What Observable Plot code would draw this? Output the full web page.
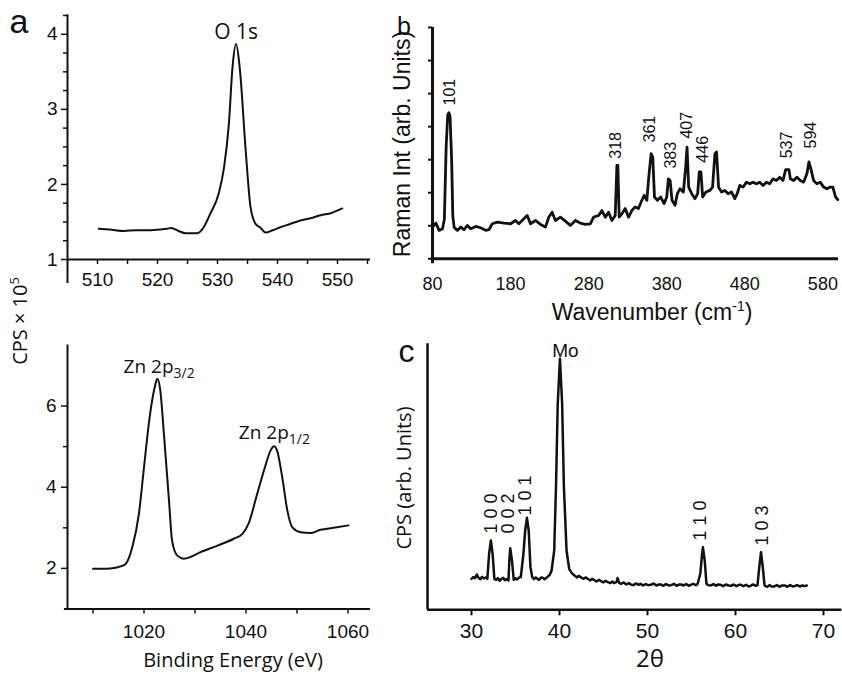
<!DOCTYPE html>
<html><head><meta charset="utf-8">
<script src="https://cdn.jsdelivr.net/npm/d3@7"></script>
<script src="https://cdn.jsdelivr.net/npm/@observablehq/plot@0.6"></script>
<style>
body{margin:0;background:#fff;}
#wrap{position:relative;width:842px;height:675px;overflow:hidden;background:#fff;}
#wrap svg{position:absolute;left:0;top:0;}
</style></head><body><div id="wrap"></div>
<script>
// ---------- (a) XPS O 1s ----------
const o1sBE  = [510.2,512.0,514.4,516.5,518.5,520.5,521.6,522.3,523.5,524.7,526.6,527.7,528.8,530.2,531.1,531.9,532.5,533.1,533.7,534.7,535.5,536.3,537.2,538.0,539.2,540.5,542.0,543.8,545.5,547.2,549.0,550.8];
const o1sCPS = [1.41,1.40,1.38,1.39,1.39,1.40,1.41,1.42,1.38,1.35,1.35,1.43,1.61,1.88,2.23,2.81,3.56,3.87,3.56,2.45,1.70,1.48,1.42,1.36,1.39,1.43,1.47,1.52,1.55,1.59,1.62,1.68];
const o1sXTicks = [510,515,520,525,530,535,540,545,550,555];
const o1sYTicks = [1,2,3,4];
const o1sYMinor = [1.25,1.5,1.75,2.25,2.5,2.75,3.25,3.5,3.75,4.25];
const o1sLabel = [{x:533.1, y:3.94, text:"O 1s"}];

// ---------- (a) XPS Zn 2p ----------
const zn2pBE  = [1010.0,1013.4,1015.4,1016.4,1017.7,1019.0,1020.0,1021.1,1022.1,1022.6,1023.2,1023.9,1024.9,1025.5,1026.5,1027.8,1029.1,1031.1,1034.4,1037.6,1039.3,1040.5,1042.2,1043.8,1044.8,1045.5,1046.1,1047.1,1048.1,1049.1,1050.7,1052.6,1054.6,1057.2,1060.1];
const zn2pCPS = [1.99,2.00,2.05,2.11,2.52,3.34,4.49,5.72,6.46,6.67,6.38,5.32,3.67,2.69,2.32,2.24,2.28,2.40,2.56,2.73,2.85,3.10,3.84,4.53,4.90,5.01,4.90,4.25,3.43,3.01,2.89,2.87,2.95,3.00,3.06];
const zn2pXTicks = [1010,1020,1030,1040,1050,1060];
const zn2pYTicks = [2,4,6];
const zn2pYMinor = [3,5];
const zn2pLabels = [{x:1016.0, y:6.81, main:"Zn 2p", sub:"3/2"}, {x:1038.6, y:5.19, main:"Zn 2p", sub:"1/2"}];

// ---------- (b) Raman ----------
const ramanWn  = [80,84.3,88.5,92.8,95.2,97.5,99.5,101.0,102.5,104.5,106.0,107.7,111.9,116.2,120.4,124.7,128.9,135.3,141.7,148.1,152.3,156.6,163,171.5,180,186.4,190.6,197,201.3,205.5,211.9,218.3,224.7,228.9,233.2,237.4,243.8,250.2,256.6,263,269.4,275.7,282.1,286.4,292.8,297,301.3,305.5,309.8,314,316.2,317.4,319.1,322.6,326.8,331.1,335.3,339.6,343.8,348.1,351.1,354.5,357,360,362.1,364.3,368.1,372.3,376.6,380,382.1,384.3,386.8,390.6,393.6,397,401.3,404.3,406,408.1,412,416.2,419.6,421.7,423.8,426,430.2,435.3,438.7,441.7,443.8,446.4,450.2,454.5,458.7,463,467.2,470.2,473.6,477.9,482.1,486.4,490.6,494.9,499.1,503.4,507.7,511.9,516.2,520.4,524.7,528.9,532.3,536.6,538.3,542.6,546.8,551.1,555.3,559.6,562.1,565.1,568.1,572.3,576.6,580.9,585.1,589.4,592.8,596.2,599.1];
const ramanInt = [0.96,1.08,0.86,0.91,1.20,3.40,4.35,4.42,4.30,3.00,1.30,0.95,0.86,0.96,0.88,1.01,0.91,0.98,0.94,0.86,0.88,1.06,1.11,1.08,1.06,1.16,1.06,1.21,1.31,1.06,1.16,1.04,0.96,1.26,1.41,1.16,1.26,1.14,1.01,1.16,1.08,1.04,1.06,1.26,1.31,1.46,1.26,1.41,1.16,1.31,2.83,2.83,1.26,1.36,1.52,1.26,1.46,1.57,1.52,1.77,1.92,1.77,2.47,3.18,3.08,1.87,1.77,1.87,1.67,1.87,2.42,2.37,1.77,1.62,1.97,2.12,2.02,2.78,3.38,2.17,1.97,1.82,1.97,2.63,2.63,1.87,2.02,2.07,2.17,3.18,3.23,2.17,2.02,2.07,1.97,2.02,1.82,1.97,2.22,2.17,2.32,2.27,2.32,2.27,2.32,2.22,2.32,2.27,2.42,2.37,2.47,2.37,2.70,2.70,2.42,2.37,2.47,2.37,2.32,2.58,2.93,2.68,2.37,2.27,2.32,2.17,2.12,2.17,2.17,1.87,1.79];
const ramanXTicks = [80,180,280,380,480,580];
const ramanYTicks = [0,1,2,3,4,5,6,7];
const ramanPeakText = ["101","318","361","383","407","446","537","594"];
const ramanPeakX    = [102.2,314.4,358.3,385.7,406.2,426.7,534.3,565.0];
const ramanPeakY    = [4.64,3.03,3.52,2.73,3.64,2.91,3.04,3.34];

// ---------- (c) XRD ----------
const xrd2Theta = [30.0,30.2,30.4,30.6,30.8,31.0,31.2,31.4,31.6,31.8,32.0,32.2,32.4,32.6,32.8,33.0,33.2,33.4,33.6,33.8,34.0,34.2,34.3,34.4,34.6,34.8,35.0,35.2,35.4,35.6,35.9,36.1,36.3,36.5,36.7,36.9,37.1,37.3,37.5,37.7,37.9,38.1,38.3,38.6,38.9,39.1,39.4,39.6,39.8,40.05,40.3,40.5,40.8,41.1,41.4,41.7,42.0,42.2,42.4,42.7,43.0,43.2,43.5,43.7,43.9,44.2,44.5,44.7,45.0,45.2,45.5,45.8,46.0,46.2,46.5,46.6,46.8,47.0,47.3,47.6,47.9,48.1,48.4,48.7,49.0,49.2,49.5,49.8,50.1,50.4,50.7,51.0,51.3,51.5,51.8,52.1,52.4,52.7,53.0,53.3,53.6,53.8,54.1,54.4,54.7,54.9,55.2,55.5,55.7,56.0,56.2,56.3,56.5,56.7,56.9,57.2,57.5,57.8,58.0,58.3,58.6,58.9,59.2,59.5,59.8,60.1,60.4,60.6,60.9,61.2,61.5,61.7,62.0,62.3,62.5,62.7,62.9,63.1,63.3,63.6,63.9,64.1,64.4,64.7,65.0,65.3,65.6,65.9,66.2,66.5,66.7,67.0,67.3,67.6,67.9,68.1];
const xrdCPS    = [0.93,0.98,0.95,1.06,0.96,0.92,0.99,0.94,0.97,0.93,1.68,2.08,1.68,0.93,0.90,0.95,0.87,0.93,0.96,0.89,0.92,0.88,1.48,1.85,1.48,0.90,0.95,0.91,0.97,0.98,1.68,2.38,2.76,2.38,1.28,0.98,0.92,0.97,0.93,0.90,0.97,0.96,0.92,0.98,1.05,1.18,1.78,3.68,6.18,7.53,6.18,3.68,1.78,1.23,1.10,1.03,0.97,1.02,0.98,0.93,0.97,0.93,0.88,0.93,0.90,0.85,0.90,0.86,0.82,0.87,0.83,0.80,0.85,0.80,0.84,0.95,0.80,0.78,0.82,0.76,0.80,0.76,0.74,0.79,0.75,0.78,0.73,0.77,0.74,0.75,0.79,0.73,0.76,0.76,0.72,0.77,0.73,0.74,0.78,0.72,0.76,0.76,0.73,0.77,0.72,0.75,0.78,0.74,0.78,1.08,1.68,1.88,1.48,0.78,0.74,0.73,0.77,0.72,0.76,0.75,0.71,0.76,0.73,0.72,0.76,0.71,0.75,0.75,0.71,0.75,0.70,0.72,0.76,0.72,0.74,1.28,1.73,1.28,0.73,0.69,0.74,0.70,0.70,0.74,0.69,0.73,0.73,0.69,0.74,0.70,0.71,0.74,0.70,0.73,0.71,0.73];
const xrdXTicks = [30,40,50,60,70];
const xrdPeakText = ["1 0 0","0 0 2","1 0 1","1 1 0","1 0 3"];
const xrdPeakX    = [32.27,34.13,36.06,56.02,63.03];
const xrdPeakY    = [2.29,2.29,2.83,2.08,1.93];
const xrdMo = [{x:40.68, y:7.58, text:"Mo"}];

// ---------- rendering ----------
const wrap = document.getElementById("wrap");
const ARIAL = "'Liberation Sans', Arial, sans-serif";
const SANS = "'Open Sans', sans-serif";
const zip = (xs, ys) => xs.map((x, i) => ({x, y: ys[i]}));
const fmt = d => String(d);
function layer(o, fs) {
  const svg = Plot.plot({
    width: 842, height: 675, ...o,
    style: {background: "transparent", overflow: "visible", color: "#111", fontFamily: ARIAL, fontSize: fs + "px"}
  });
  wrap.appendChild(svg);
}

// (a) top
layer({
  marginLeft: 67, marginRight: 475, marginTop: 15, marginBottom: 416,
  x: {domain: [505, 555], label: null}, y: {domain: [1, 4.25], label: null},
  marks: [
    Plot.axisX({ticks: o1sXTicks, tickFormat: d => (d % 10 === 0 ? String(d) : ""), tickSize: 5, tickPadding: 8, strokeWidth: 1.5, label: null}),
    Plot.axisY({ticks: o1sYTicks, tickFormat: fmt, tickSize: 6, tickPadding: 4, strokeWidth: 1.5, label: null}),
    Plot.axisY({ticks: o1sYMinor, tickSize: 4, tickFormat: () => "", strokeWidth: 1.5, label: null}),
    Plot.ruleY([1], {x1: 505, x2: 555.5, strokeWidth: 2}),
    Plot.ruleX([505], {y1: 0.68, y2: 4.26, strokeWidth: 2}),
    Plot.line(zip(o1sBE, o1sCPS), {x: "x", y: "y", strokeWidth: 2, curve: "monotone-x"}),
    Plot.text(o1sLabel, {x: "x", y: "y", text: "text", lineAnchor: "bottom", fontFamily: SANS, fontSize: 21})
  ]
}, 19);

// (a) bottom
layer({
  marginLeft: 67, marginRight: 469, marginTop: 344.6, marginBottom: 66.5,
  x: {domain: [1005, 1065], label: null}, y: {domain: [1, 7.5], label: null},
  marks: [
    Plot.axisX({ticks: zn2pXTicks, tickFormat: d => (d % 20 === 0 ? String(d) : ""), tickSize: 5, tickPadding: 10, strokeWidth: 1.5, label: null}),
    Plot.axisY({ticks: zn2pYTicks, tickFormat: fmt, tickSize: 6, tickPadding: 5, strokeWidth: 1.5, label: null}),
    Plot.axisY({ticks: zn2pYMinor, tickSize: 4, tickFormat: () => "", strokeWidth: 1.5, label: null}),
    Plot.ruleY([1], {x1: 1004.4, x2: 1064.4, strokeWidth: 2}),
    Plot.ruleX([1005], {y1: 1, y2: 7.5, strokeWidth: 2}),
    Plot.line(zip(zn2pBE, zn2pCPS), {x: "x", y: "y", strokeWidth: 2, curve: "monotone-x"}),
    Plot.text(zn2pLabels, {x: "x", y: "y", text: "main", textAnchor: "start", lineAnchor: "bottom", fontFamily: SANS, fontSize: 19}),
    Plot.text(zn2pLabels, {x: "x", y: "y", text: "sub", textAnchor: "start", lineAnchor: "bottom", dx: 50, dy: 5, fontFamily: SANS, fontSize: 14})
  ]
}, 19);

// (b) Raman
layer({
  marginLeft: 432, marginRight: 4, marginTop: 27, marginBottom: 416.7,
  x: {domain: [80, 600], label: null}, y: {domain: [0, 7], label: null},
  marks: [
    Plot.axisX({ticks: ramanXTicks, tickFormat: fmt, tickSize: 0, tickPadding: 18, label: null}),
    Plot.axisY({ticks: ramanYTicks, tickSize: 4, tickFormat: () => "", strokeWidth: 2, label: null}),
    Plot.ruleY([0], {x1: 80, x2: 600, strokeWidth: 3}),
    Plot.ruleX([80], {y1: -0.15, y2: 7, strokeWidth: 3}),
    Plot.line(zip(ramanWn, ramanInt), {x: "x", y: "y", strokeWidth: 2.8, strokeLinejoin: "round"}),
    Plot.text(ramanPeakText.map((t, i) => ({t, x: ramanPeakX[i], y: ramanPeakY[i]})), {x: "x", y: "y", text: "t", rotate: -90, textAnchor: "start", fontSize: 16})
  ]
}, 18);

// (c) XRD
layer({
  marginLeft: 427, marginRight: 1.4, marginTop: 343.3, marginBottom: 65.7,
  x: {domain: [25, 72], label: null}, y: {domain: [0, 7.98], axis: null, label: null},
  marks: [
    Plot.axisX({ticks: xrdXTicks, tickFormat: fmt, tickSize: 6, tickPadding: 7, strokeWidth: 2, label: null}),
    Plot.ruleY([0], {x1: 25, x2: 72.1, strokeWidth: 2.5}),
    Plot.ruleX([25], {y1: 0, y2: 7.98, strokeWidth: 2.5}),
    Plot.line(zip(xrd2Theta, xrdCPS), {x: "x", y: "y", strokeWidth: 2.5, strokeLinejoin: "round"}),
    Plot.text(xrdMo, {x: "x", y: "y", text: "text", lineAnchor: "bottom", fontSize: 19}),
    Plot.text(xrdPeakText.map((t, i) => ({t, x: xrdPeakX[i], y: xrdPeakY[i]})), {x: "x", y: "y", text: "t", rotate: -90, textAnchor: "start", fontSize: 18})
  ]
}, 21);

// titles and panel letters
const ann = d3.select(wrap).append("svg").attr("width", 842).attr("height", 675).style("overflow", "visible");
function txt(x, y, family, size, rot) {
  return ann.append("text").attr("text-anchor", "middle").attr("font-family", family).attr("font-size", size).attr("fill", "#111")
    .attr("transform", `translate(${x},${y})` + (rot ? ` rotate(${rot})` : ""));
}
txt(19, 33.3, ARIAL, 34).text("a");
txt(404, 35, ARIAL, 25).text("b");
txt(406.5, 362, ARIAL, 32).text("c");
const cps = txt(27, 321, SANS, 20, -90);
cps.append("tspan").text("CPS × 10");
cps.append("tspan").attr("dy", -8).attr("font-size", 13).text("5");
txt(233, 667, SANS, 20).text("Binding Energy (eV)");
const wn = txt(652, 320, ARIAL, 23);
wn.append("tspan").text("Wavenumber (cm");
wn.append("tspan").attr("dy", -9).attr("font-size", 14).text("-1");
wn.append("tspan").attr("dy", 9).text(")");
txt(410, 144, ARIAL, 23, -90).text("Raman Int (arb. Units)");
txt(410.5, 478, SANS, 20, -90).text("CPS (arb. Units)");
txt(650, 667, SANS, 24).text("2θ");
</script></body></html>
